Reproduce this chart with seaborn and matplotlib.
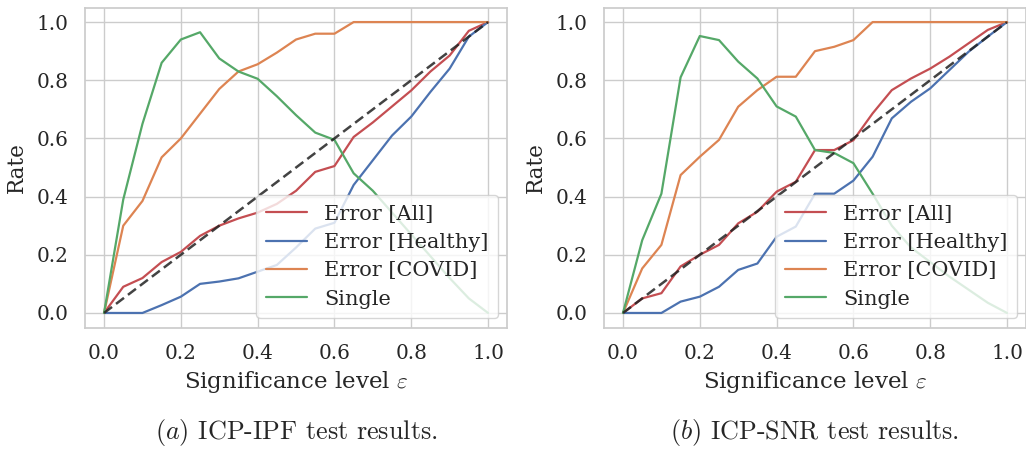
import pandas as pd
import matplotlib.pyplot as plt
import seaborn as sns

# significance levels
eps = [0.0, 0.05, 0.1, 0.15, 0.2, 0.25, 0.3, 0.35, 0.4, 0.45, 0.5,
       0.55, 0.6, 0.65, 0.7, 0.75, 0.8, 0.85, 0.9, 0.95, 1.0]

# ICP-IPF
ipf_all = [0.0, 0.09, 0.12, 0.175, 0.21, 0.265, 0.30, 0.325, 0.345, 0.375, 0.42,
           0.485, 0.505, 0.605, 0.655, 0.71, 0.765, 0.83, 0.885, 0.97, 1.0]
ipf_healthy = [0.0, 0.0, 0.0, 0.027, 0.056, 0.10, 0.108, 0.119, 0.142, 0.165, 0.225,
               0.29, 0.31, 0.44, 0.525, 0.61, 0.675, 0.76, 0.84, 0.95, 1.0]
ipf_covid = [0.0, 0.30, 0.385, 0.535, 0.60, 0.685, 0.77, 0.83, 0.855, 0.895, 0.94,
             0.96, 0.96, 1.0, 1.0, 1.0, 1.0, 1.0, 1.0, 1.0, 1.0]
ipf_single = [0.0, 0.39, 0.65, 0.86, 0.94, 0.965, 0.875, 0.83, 0.805, 0.745, 0.68,
              0.62, 0.595, 0.48, 0.42, 0.345, 0.27, 0.195, 0.12, 0.05, 0.0]

# ICP-SNR
snr_all = [0.0, 0.05, 0.068, 0.16, 0.20, 0.234, 0.308, 0.348, 0.417, 0.451, 0.56,
           0.56, 0.594, 0.686, 0.766, 0.806, 0.84, 0.881, 0.927, 0.973, 1.0]
snr_healthy = [0.0, 0.0, 0.0, 0.039, 0.056, 0.09, 0.148, 0.17, 0.262, 0.297, 0.41,
               0.41, 0.455, 0.537, 0.669, 0.726, 0.772, 0.835, 0.898, 0.95, 1.0]
snr_covid = [0.0, 0.153, 0.234, 0.474, 0.537, 0.595, 0.709, 0.766, 0.812, 0.812, 0.90,
             0.915, 0.938, 1.0, 1.0, 1.0, 1.0, 1.0, 1.0, 1.0, 1.0]
snr_single = [0.0, 0.25, 0.41, 0.81, 0.952, 0.938, 0.864, 0.806, 0.71, 0.675, 0.56,
              0.55, 0.515, 0.41, 0.30, 0.225, 0.175, 0.125, 0.08, 0.035, 0.0]

series_names = ['Error [All]', 'Error [Healthy]', 'Error [COVID]', 'Single']
captions = [r'$(a)$ ICP-IPF test results.', r'$(b)$ ICP-SNR test results.']
ticks = [0.0, 0.2, 0.4, 0.6, 0.8, 1.0]

sns.set_theme(style="whitegrid")
plt.rcParams['font.family'] = ['DejaVu Serif']
plt.rcParams['mathtext.fontset'] = 'cm'

deep = sns.color_palette("deep")
palette = {'Error [All]': deep[3], 'Error [Healthy]': deep[0],
           'Error [COVID]': deep[1], 'Single': deep[2]}


def make_frame(cols):
    rows = []
    for name, vals in zip(series_names, cols):
        for e, v in zip(eps, vals):
            rows.append({'eps': e, 'rate': v, 'series': name})
    return pd.DataFrame(rows)


frames = [make_frame([ipf_all, ipf_healthy, ipf_covid, ipf_single]),
          make_frame([snr_all, snr_healthy, snr_covid, snr_single])]

fig = plt.figure(figsize=(10.26, 4.5), dpi=100)
lefts = [0.0827, 0.5885]

for i, df in enumerate(frames):
    ax = fig.add_axes([lefts[i], 0.2722, 0.4117, 0.7111])
    sns.lineplot(data=df, x='eps', y='rate', hue='series', hue_order=series_names,
                 palette=palette, linewidth=1.6, ax=ax)
    ax.plot(eps, eps, linestyle='--', color='#222222', alpha=0.85, linewidth=1.8,
            dashes=(4, 2), zorder=5)
    ax.set_xlim(-0.05, 1.05)
    ax.set_ylim(-0.05, 1.05)
    ax.set_xticks(ticks)
    ax.set_yticks(ticks)
    ax.tick_params(labelsize=14.4, pad=6)
    ax.set_xlabel(r'Significance level $\varepsilon$', fontsize=16.5, labelpad=4)
    ax.set_ylabel('Rate', fontsize=15.5, labelpad=6)
    ax.legend(loc='lower right', fontsize=15, handlelength=2.0, borderpad=0.45,
              labelspacing=0.45, handletextpad=0.8, borderaxespad=0.45)
    fig.text(lefts[i] + 0.4117 / 2, 0.04, captions[i], ha='center', va='center',
             fontsize=18.8, family='cmr10')

plt.savefig('out.png', dpi=100)
